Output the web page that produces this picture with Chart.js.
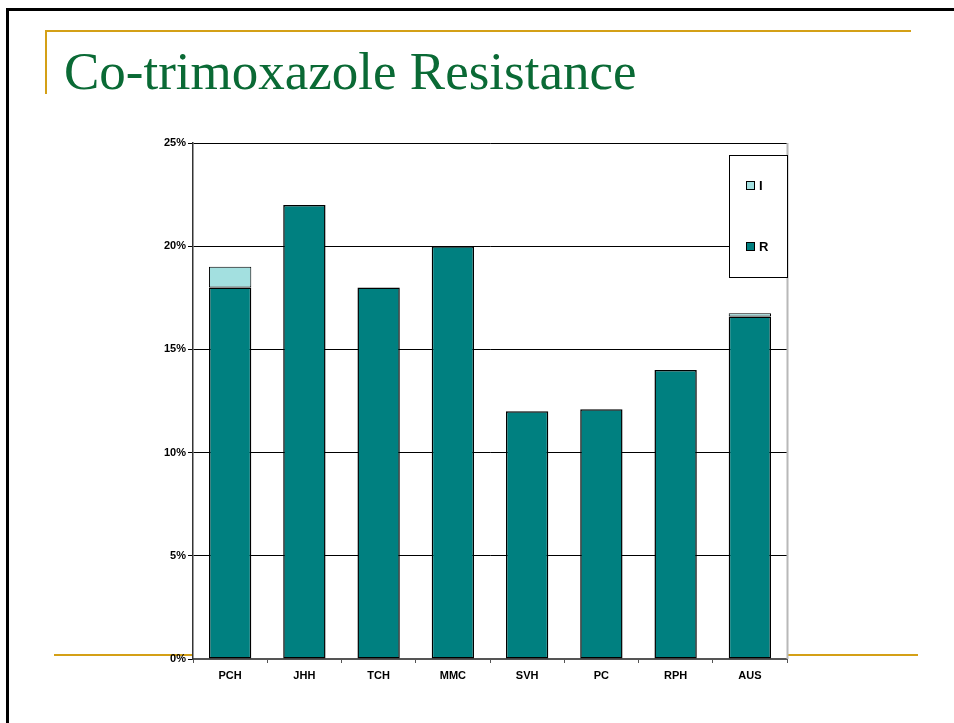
<!DOCTYPE html>
<html>
<head>
<meta charset="utf-8">
<script src="https://cdn.jsdelivr.net/npm/chart.js@4.4.1/dist/chart.umd.min.js"></script>
<style>
  html, body { margin: 0; padding: 0; background: #fff; }
  #slide { position: relative; width: 954px; height: 723px; overflow: hidden; }
  .rule { position: absolute; background: #d4a017; }
  #frame { position: absolute; left: 6px; top: 8px; width: 960px; height: 740px; border-top: 3px solid #000; border-left: 3px solid #000; }
  #title { position: absolute; left: 64px; top: 45px; font-family: "Liberation Serif", "Times New Roman", serif; font-size: 53px; line-height: 1; color: #0a6a35; white-space: nowrap; }
  #chart { position: absolute; left: 0; top: 0; }
</style>
</head>
<body>
<div id="slide">
  <div id="frame"></div>
  <div class="rule" style="left:45px; top:30px; width:866px; height:2px;"></div>
  <div class="rule" style="left:45px; top:30px; width:2px; height:64px;"></div>
  <div class="rule" style="left:54px; top:654px; width:864px; height:2px;"></div>
  <div id="title">Co-trimoxazole Resistance</div>
  <canvas id="chart" width="954" height="723"></canvas>
</div>
<script>
const hospitals = ["PCH", "JHH", "TCH", "MMC", "SVH", "PC", "RPH", "AUS"];
const resistant = [18, 22, 18, 20, 12, 12.1, 14, 16.6];
const intermediate = [1, 0, 0, 0, 0, 0, 0, 0.15];
const yTicks = [0, 5, 10, 15, 20, 25];

const tickFont = { family: "Liberation Sans, Arial, sans-serif", size: 11, weight: "bold" };

// white plot background, grey right edge, and the boxed legend
const plotDecor = {
  id: "plotDecor",
  beforeDraw(chart) {
    const { ctx, chartArea: a } = chart;
    ctx.save();
    ctx.fillStyle = "#fff";
    ctx.fillRect(a.left, a.top, a.right - a.left, a.bottom - a.top);
    ctx.restore();
  },
  afterDraw(chart) {
    const { ctx, chartArea: a } = chart;
    ctx.save();
    ctx.strokeStyle = "#b8b8b8";
    ctx.lineWidth = 2;
    ctx.beginPath();
    ctx.moveTo(a.right + 0.5, a.top);
    ctx.lineTo(a.right + 0.5, a.bottom);
    ctx.stroke();

    const bx = a.right - 58, by = a.top + 12, bw = 58, bh = 122;
    ctx.fillStyle = "#fff";
    ctx.fillRect(bx, by, bw, bh);
    ctx.strokeStyle = "#000";
    ctx.lineWidth = 1;
    ctx.strokeRect(bx + 0.5, by + 0.5, bw, bh);

    const items = [chart.data.datasets[1], chart.data.datasets[0]];
    items.forEach((ds, i) => {
      const cy = by + 31 + i * 61;
      ctx.fillStyle = ds.backgroundColor;
      ctx.fillRect(bx + 17.5, cy - 4.5, 8, 8);
      ctx.strokeStyle = "#000";
      ctx.strokeRect(bx + 17.5, cy - 4.5, 8, 8);
      ctx.fillStyle = "#000";
      ctx.font = "bold 13px Liberation Sans, Arial, sans-serif";
      ctx.textBaseline = "middle";
      ctx.fillText(ds.label, bx + 30, cy + 0.5);
    });
    ctx.restore();
  }
};

new Chart(document.getElementById("chart"), {
  type: "bar",
  data: {
    labels: hospitals,
    datasets: [
      {
        label: "R",
        data: resistant,
        backgroundColor: "#008080",
        borderColor: "#000",
        borderWidth: 1.5,
        borderSkipped: false,
        barPercentage: 0.57,
        categoryPercentage: 1,
      },
      {
        label: "I",
        data: intermediate,
        backgroundColor: "#a3e0e0",
        borderColor: "#000",
        borderWidth: 1,
        borderSkipped: false,
        barPercentage: 0.57,
        categoryPercentage: 1,
      },
    ],
  },
  options: {
    responsive: false,
    animation: false,
    layout: { padding: { left: 143, right: 167, top: 143, bottom: 24 } },
    plugins: {
      legend: { display: false },
      tooltip: { enabled: false },
    },
    scales: {
      x: {
        stacked: true,
        afterFit: (scale) => { scale.height = 40; },
        grid: {
          offset: true,
          drawOnChartArea: false,
          tickLength: 4,
          color: "#555",
        },
        border: { color: "#555", width: 2 },
        ticks: { color: "#000", font: tickFont, padding: 6 },
      },
      y: {
        stacked: true,
        min: 0,
        max: 25,
        afterFit: (scale) => { scale.width = 50; },
        afterBuildTicks: (scale) => { scale.ticks = yTicks.map((v) => ({ value: v })); },
        grid: { color: "#000", tickLength: 5 },
        border: { color: "#333", width: 1.5 },
        ticks: {
          color: "#000",
          font: tickFont,
          padding: 2,
          callback: (v) => v + "%",
        },
      },
    },
  },
  plugins: [plotDecor],
});
</script>
</body>
</html>
